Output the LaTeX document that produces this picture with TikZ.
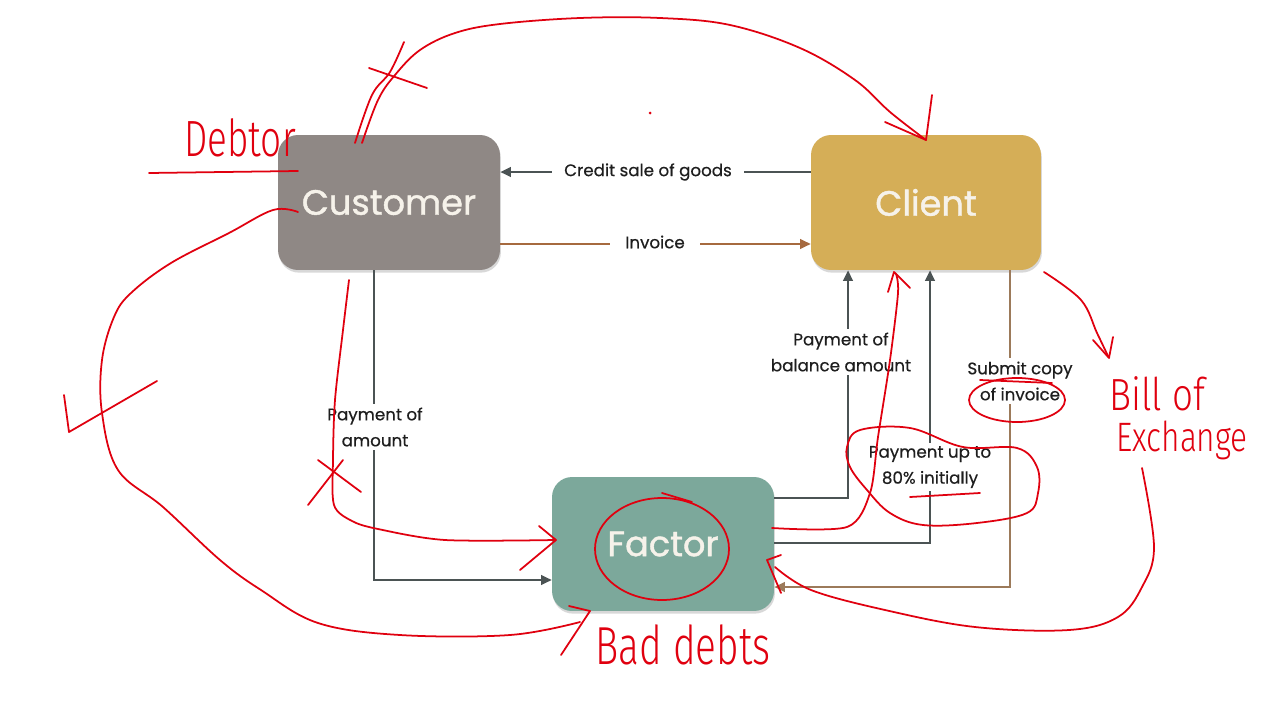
\documentclass[tikz,border=0pt]{standalone}
\usepackage{fontspec}
\setmainfont{Poppins}[FakeBold=0.5]
\newfontfamily\boxfont{Poppins}[FakeBold=1.2]
\newfontfamily\hand{Fira Sans Light}
\usetikzlibrary{arrows.meta,shadows}
\definecolor{custc}{HTML}{8F8885}
\definecolor{clic}{HTML}{D5AE57}
\definecolor{facc}{HTML}{7CA89B}
\definecolor{boxtxt}{HTML}{F6F2EA}
\definecolor{dk}{HTML}{4B5354}
\definecolor{brn}{HTML}{A66A3F}
\definecolor{tan}{HTML}{9C7A5A}
\definecolor{txt}{HTML}{1E1E1E}
\definecolor{hr}{HTML}{E0000F}
\tikzset{
  box/.style={rounded corners=0.4cm, text=boxtxt, font=\boxfont\fontsize{20}{24}\selectfont,
    drop shadow={opacity=0.3, shadow xshift=0.5pt, shadow yshift=-1.5pt}},
  conn/.style={line width=1.1pt, draw=dk, -{Triangle[width=5.5pt,length=6pt]}},
  lbl/.style={fill=white, text=txt, font=\fontsize{9.5}{14.8}\selectfont, align=center, inner sep=2pt},
  pen/.style={draw=hr, line width=1pt, line cap=round, line join=round},
  hw/.style={text=hr, font=\hand\fontsize{20}{24}\selectfont, inner sep=0pt}
}
\begin{document}
\begin{tikzpicture}[x=0.02cm,y=-0.02cm]
\useasboundingbox (0,0) rectangle (1280,720);
\fill[white] (0,0) rectangle (1280,720);

% boxes
\node[box, fill=custc, minimum width=4.44cm, minimum height=2.7cm] (cust) at (389,202.5) {Customer};
\node[box, fill=clic, minimum width=4.6cm, minimum height=2.7cm] (cli) at (926,202.5) {Client};
\node[box, fill=facc, minimum width=4.44cm, minimum height=2.68cm] (fac) at (663,544) {Factor};

% connectors
\draw[conn] ([yshift=0.61cm]cli.west) -- ([yshift=0.61cm]cust.east);
\draw[conn, draw=brn] ([yshift=-0.83cm]cust.east) -- ([yshift=-0.83cm]cli.west);
\draw[conn] ([xshift=-0.3cm]cust.south) |- ([yshift=-0.72cm]fac.west);
\draw[conn] ([yshift=0.92cm]fac.east) -| ([xshift=-1.56cm]cli.south);
\draw[conn] ([yshift=0.02cm]fac.east) -| ([xshift=0.08cm]cli.south);
\draw[conn, draw=tan] ([xshift=1.68cm]cli.south) |- ([yshift=-0.86cm]fac.east);

% labels
\node[lbl, inner xsep=0.24cm] (l1) at (648,172) {Credit sale of goods};
\node[lbl, inner xsep=0.3cm] (l2) at (655,242) {Invoice};
\node[lbl] (l3) at (375,427) {Payment of\\amount};
\node[lbl] (l4) at (841,352) {Payment of\\balance amount};
\node[lbl] (l5) at (930,467) {Payment up to\\80\% initially};
\node[lbl] (l6) at (1020,381) {Submit copy\\of invoice};

% ---------- red handwriting ----------
% big top arc
\draw[pen] plot[smooth, tension=0.6] coordinates {(355,143) (372,95) (390,72) (404,42)};
\draw[pen] plot[smooth, tension=0.6] coordinates {(362,143) (378,100) (395,75) (420,50) (455,33) (500,24) (580,18) (660,18) (730,25) (800,48) (855,80) (890,112) (926,140)};
\draw[pen] (885,122) -- (926,140) -- (932,95);
\draw[pen] (369,68) -- (427,88);
% Debtor
\node[hw] (debtor) at (240,138) {\scalebox{1.05}[1.45]{Debtor}};
\draw[pen] (149,173) -- (298,171);
% left big curve to factor
\draw[pen] plot[smooth, tension=0.6] coordinates {(298,212) (273,210) (229,233) (171,263) (131,293) (114,317) (102,360) (102,413) (118,470) (163,507) (220,560) (261,590) (318,623) (400,635) (510,635) (580,622)};
\draw[pen] (569,606) -- (590,611) -- (561,655);
\draw[pen] (64,395) -- (69,432) -- (157,381);
% customer to factor
\draw[pen] plot[smooth, tension=0.5] coordinates {(349,280) (343,330) (335,400) (333,460) (334,505) (352,521) (378,529) (445,540) (555,540)};
\draw[pen] (539,526) -- (556,540) -- (520,570);
\draw[pen] (318,460) -- (361,492);
\draw[pen] (343,460) -- (308,505);
% circle round Factor
\draw[pen] (662,549) ellipse [x radius=67, y radius=51];
\draw[pen] (662,493) -- (692,502);
% factor to client
\draw[pen] plot[smooth, tension=0.5] coordinates {(772,528) (847,527) (870,493) (878,437) (890,360) (898,293) (896,274)};
\draw[pen] (888,292) -- (894,272) -- (910,288);
% loop round 80%
\draw[pen] plot[smooth cycle, tension=0.6] coordinates {(860,430) (910,428) (963,447) (1017,448) (1037,467) (1038,493) (1027,513) (977,523) (923,525) (890,513) (867,490) (850,467) (847,447)};
\draw[pen] (910,497) -- (980,493);
% circle round of invoice
\draw[pen] (1017,400) ellipse [x radius=48, y radius=22];
\draw[pen] (980,380) -- (1052,383);
% client to bill of exchange
\draw[pen] plot[smooth, tension=0.6] coordinates {(1044,272) (1081,300) (1097,333) (1108,356)};
\draw[pen] (1093,340) -- (1109,358) -- (1113,337);
\node[hw, font=\hand\fontsize{19}{22}\selectfont] (bill) at (1157,394) {\scalebox{1.1}[1.35]{Bill of}};
\node[hw, font=\hand\fontsize{18}{22}\selectfont] (exch) at (1182,440) {\scalebox{1.0}[1.3]{Exchange}};
% bill of exchange to factor
\draw[pen] plot[smooth, tension=0.6] coordinates {(1142,468) (1154,547) (1142,587) (1118,617) (1069,630) (975,627) (885,610) (811,590) (775,567)};
\draw[pen] (781,555) -- (767,560) -- (781,593);
% bad debts
\node[hw, font=\hand\fontsize{21}{24}\selectfont] (bad) at (683,645) {\scalebox{1.05}[1.45]{Bad debts}};
% dot
\fill[hr] (650,113) circle [radius=1.5];
\end{tikzpicture}
\end{document}
